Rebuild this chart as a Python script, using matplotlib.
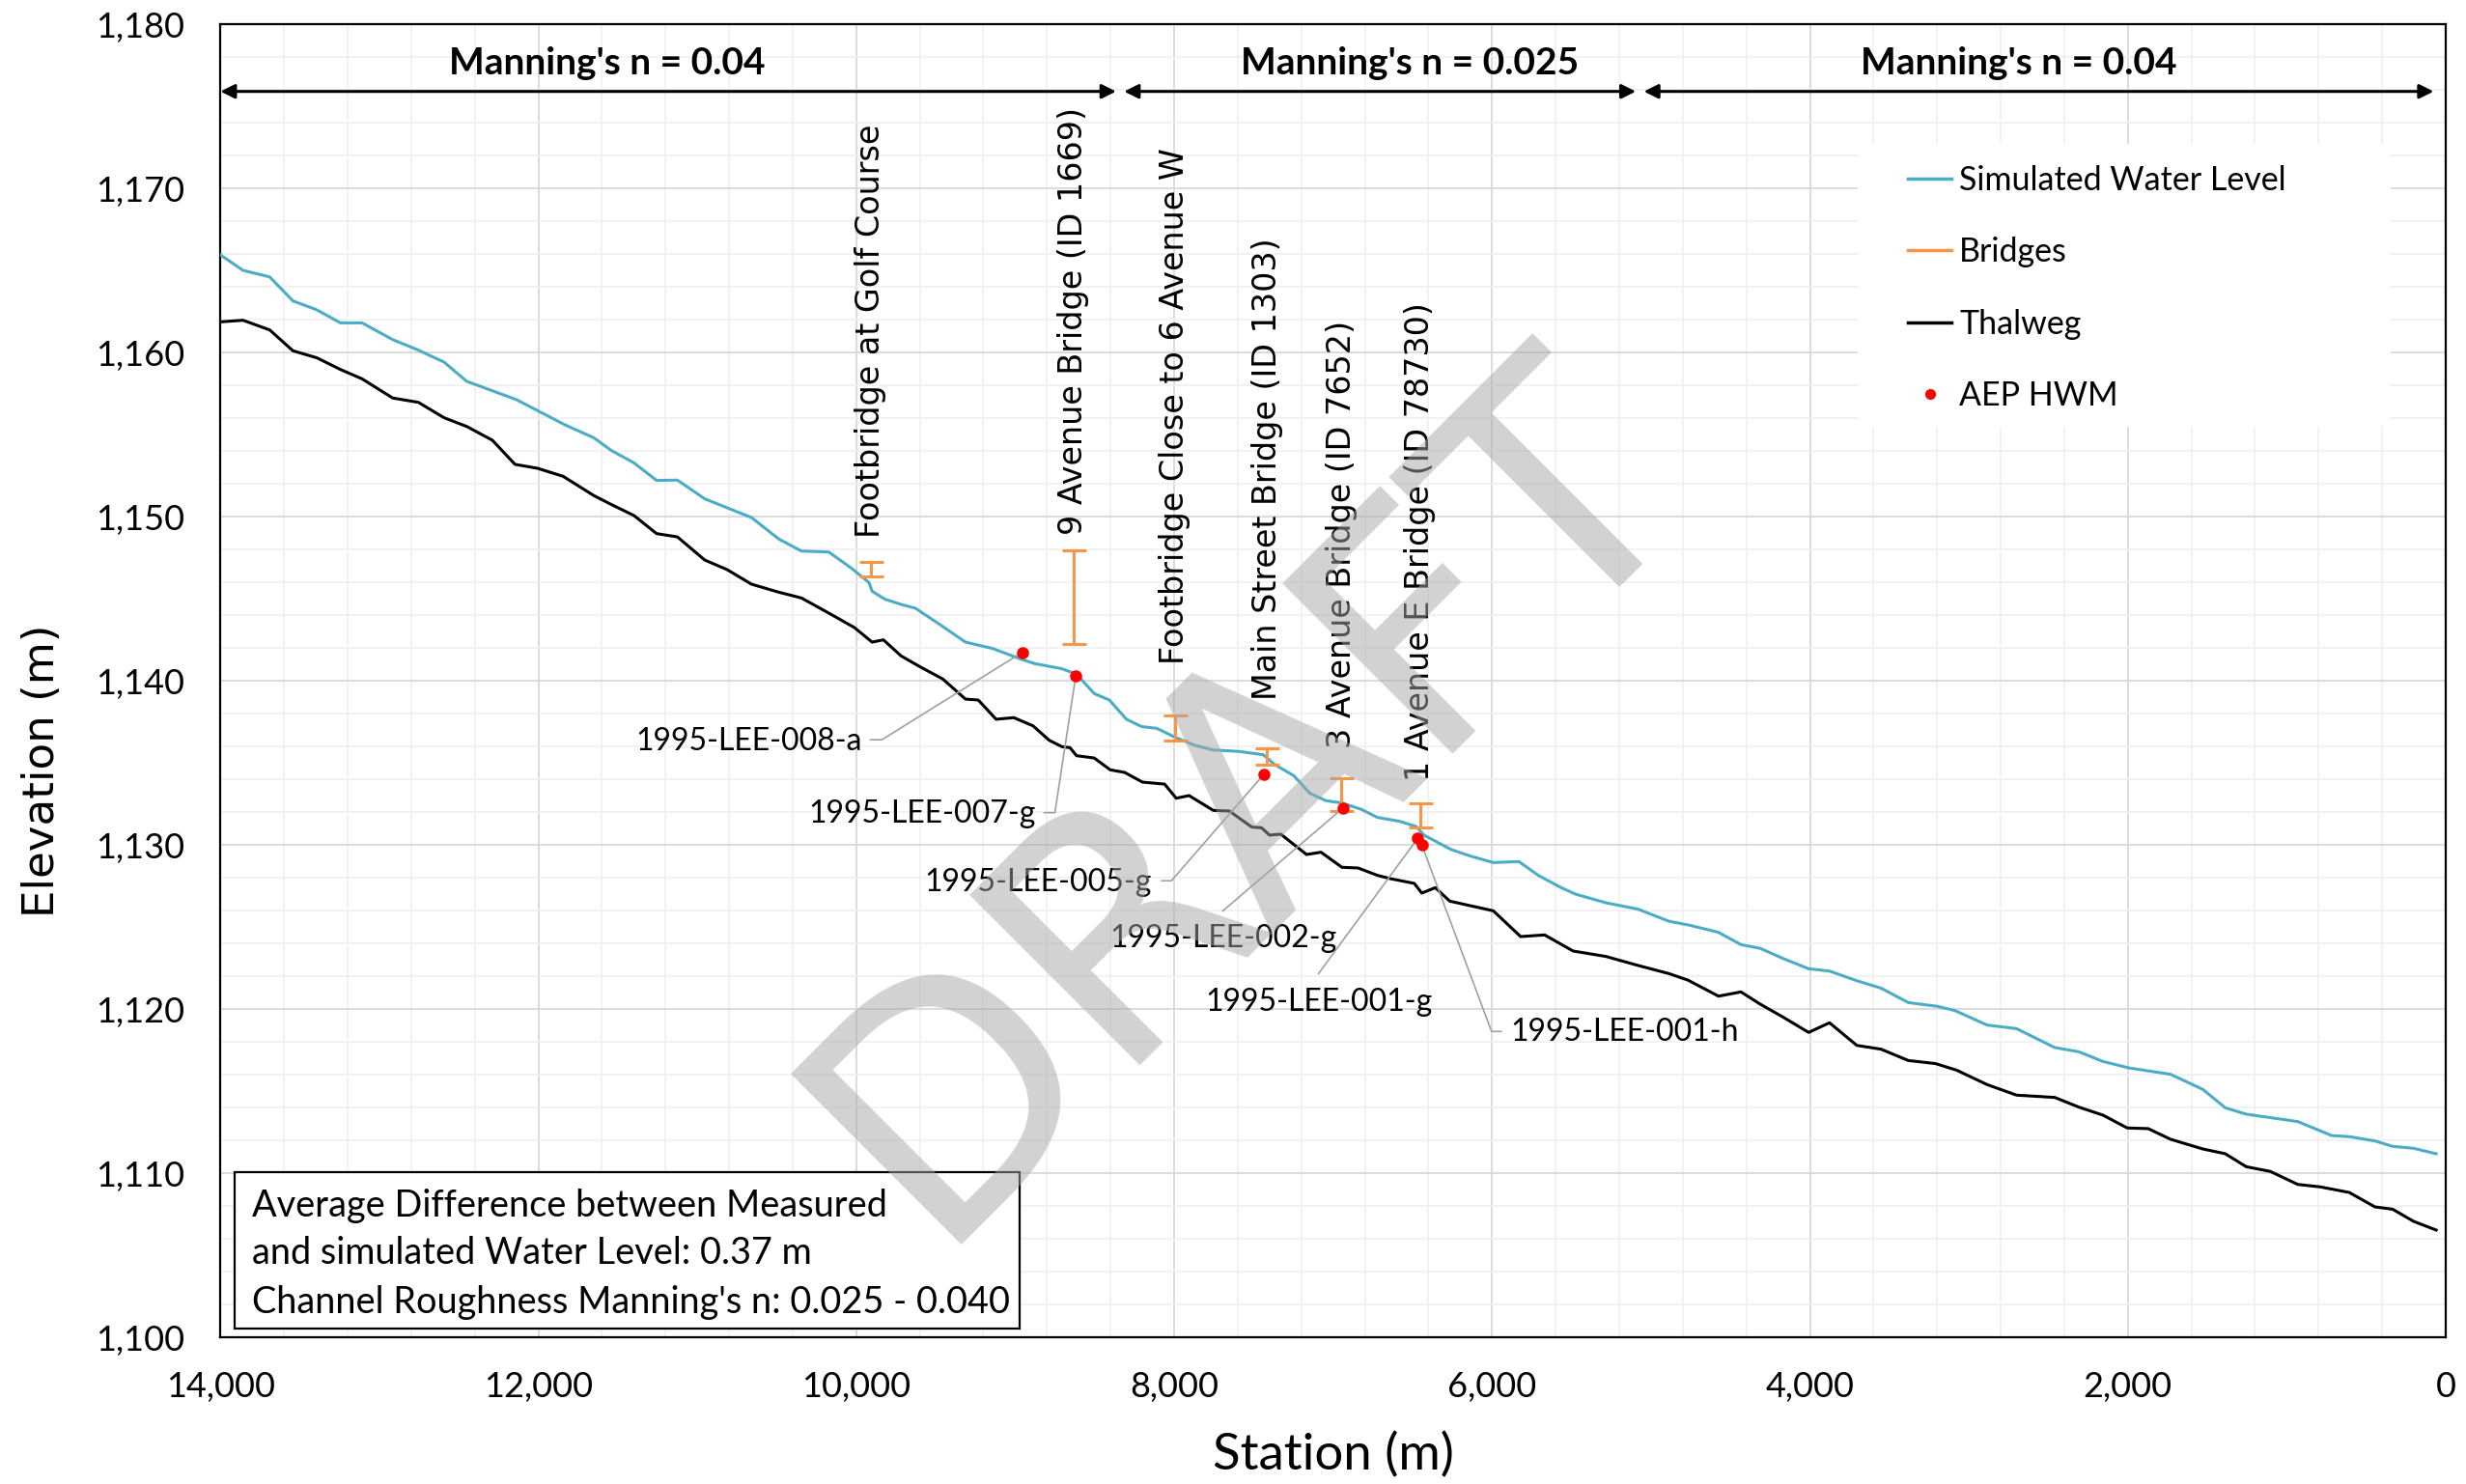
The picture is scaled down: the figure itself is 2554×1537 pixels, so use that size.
import matplotlib
matplotlib.use("Agg")
import matplotlib.pyplot as plt
from matplotlib.lines import Line2D
from matplotlib.patches import Rectangle
from matplotlib.ticker import FuncFormatter, MultipleLocator

# ---------------- data ----------------
sim_station = [14000, 13858, 13690, 13544, 13393, 13245, 13109, 12916, 12755, 12593,
               12451, 12137, 11833, 11651, 11540, 11398, 11256, 11125, 10953, 10811,
               10659, 10487, 10345, 10173, 10031, 9920, 9900, 9819, 9718, 9627,
               9475, 9313, 9141, 8968, 8877, 8706, 8614, 8503, 8407, 8300,
               8204, 8110, 7997, 7875, 7754, 7592, 7440, 7369, 7248, 7146,
               7045, 6944, 6822, 6721, 6580, 6478, 6428, 6256, 6134, 5992,
               5831, 5709, 5567, 5476, 5284, 5081, 4889, 4757, 4575, 4434,
               4312, 4170, 4008, 3877, 3705, 3553, 3381, 3198, 3087, 2885,
               2700, 2460, 2308, 2156, 1994, 1731, 1528, 1387, 1255, 931,
               718, 607, 445, 334, 202, 60]
sim_elev = [1165.94, 1165.00, 1164.60, 1163.14, 1162.59, 1161.80, 1161.80, 1160.78, 1160.14, 1159.41,
            1158.24, 1157.12, 1155.59, 1154.80, 1154.02, 1153.27, 1152.20, 1152.22, 1151.08, 1150.53,
            1149.94, 1148.63, 1147.90, 1147.84, 1146.86, 1145.98, 1145.45, 1144.96, 1144.65, 1144.41,
            1143.43, 1142.35, 1141.96, 1141.33, 1141.04, 1140.73, 1140.39, 1139.22, 1138.82, 1137.65,
            1137.20, 1137.10, 1136.57, 1136.08, 1135.78, 1135.69, 1135.49, 1134.90, 1134.22, 1133.14,
            1132.69, 1132.55, 1132.16, 1131.67, 1131.43, 1131.12, 1130.59, 1129.71, 1129.31, 1128.92,
            1128.98, 1128.14, 1127.40, 1127.00, 1126.47, 1126.08, 1125.35, 1125.10, 1124.67, 1123.92,
            1123.69, 1123.08, 1122.45, 1122.31, 1121.72, 1121.27, 1120.39, 1120.16, 1119.90, 1119.02,
            1118.80, 1117.65, 1117.39, 1116.80, 1116.41, 1116.02, 1115.10, 1113.98, 1113.59, 1113.14,
            1112.29, 1112.22, 1111.96, 1111.63, 1111.51, 1111.18]

thal_station = [14000, 13858, 13690, 13544, 13393, 13245, 13109, 12916, 12755, 12593,
                12451, 12289, 12147, 12005, 11844, 11651, 11540, 11398, 11256, 11125,
                10953, 10811, 10659, 10487, 10345, 10173, 10012, 9900, 9829, 9718,
                9597, 9455, 9313, 9232, 9120, 9009, 8888, 8786, 8706, 8655,
                8614, 8503, 8402, 8311, 8199, 8060, 7987, 7906, 7754, 7653,
                7511, 7450, 7400, 7329, 7167, 7076, 6944, 6843, 6721, 6640,
                6489, 6442, 6357, 6266, 6155, 5992, 5820, 5669, 5490, 5284,
                5081, 4889, 4768, 4575, 4434, 4312, 4170, 4008, 3877, 3705,
                3553, 3381, 3209, 3077, 2885, 2700, 2460, 2308, 2156, 2004,
                1872, 1731, 1528, 1387, 1255, 1103, 931, 789, 607, 445,
                334, 202, 60]
thal_elev = [1161.86, 1161.96, 1161.37, 1160.10, 1159.67, 1158.96, 1158.39, 1157.22, 1156.96, 1156.02,
             1155.49, 1154.65, 1153.18, 1152.94, 1152.45, 1151.28, 1150.73, 1150.06, 1148.96, 1148.76,
             1147.35, 1146.76, 1145.88, 1145.39, 1145.04, 1144.12, 1143.24, 1142.35, 1142.49, 1141.51,
             1140.84, 1140.10, 1138.88, 1138.82, 1137.65, 1137.75, 1137.25, 1136.37, 1135.98, 1135.92,
             1135.43, 1135.29, 1134.57, 1134.41, 1133.82, 1133.70, 1132.84, 1133.00, 1132.10, 1132.06,
             1131.08, 1131.04, 1130.59, 1130.65, 1129.41, 1129.55, 1128.63, 1128.59, 1128.14, 1127.94,
             1127.65, 1127.06, 1127.39, 1126.57, 1126.33, 1125.98, 1124.41, 1124.51, 1123.53, 1123.20,
             1122.65, 1122.16, 1121.76, 1120.78, 1121.04, 1120.29, 1119.51, 1118.57, 1119.16, 1117.78,
             1117.55, 1116.86, 1116.67, 1116.27, 1115.39, 1114.75, 1114.61, 1114.02, 1113.53, 1112.75,
             1112.71, 1112.06, 1111.47, 1111.18, 1110.39, 1110.10, 1109.31, 1109.16, 1108.82, 1107.94,
             1107.80, 1107.06, 1106.53]

bridge_names = ["Footbridge at Golf Course", "9 Avenue Bridge (ID 1669)",
                "Footbridge Close to 6 Avenue W", "Main Street Bridge (ID 1303)",
                "3 Avenue Bridge (ID 7652)", "1 Avenue E Bridge (ID 78730)"]
bridge_station = [9910, 8632, 7997, 7414, 6948, 6454]
bridge_low = [1146.37, 1142.22, 1136.37, 1134.90, 1132.06, 1131.08]
bridge_high = [1147.25, 1147.94, 1137.90, 1135.88, 1134.08, 1132.51]
bridge_label_elev = [1148.7, 1148.9, 1141.0, 1138.8, 1135.9, 1133.9]

hwm_names = ["1995-LEE-008-a", "1995-LEE-007-g", "1995-LEE-005-g",
             "1995-LEE-002-g", "1995-LEE-001-g", "1995-LEE-001-h"]
hwm_station = [8955, 8619, 7434, 6940, 6468, 6442]
hwm_elev = [1141.73, 1140.29, 1134.31, 1132.22, 1130.39, 1130.00]

# label layout for the HWM call-outs
hwm_label_x = [9965, 8871, 8139, 7693, 7091, 5881]
hwm_label_y = [1136.30, 1131.90, 1127.70, 1124.30, 1120.40, 1118.60]
hwm_label_ha = ["right", "right", "right", "center", "center", "left"]
hwm_leader_x = [9910, 8817, 8078, 7693, 7091, 5942]
hwm_leader_y = [1136.40, 1131.96, 1127.81, 1125.98, 1122.16, 1118.63]
hwm_elbow_x = [9839, 8750, 8017, 7693, 7091, 6003]

zone_edges = [14000, 8340, 5070, 0]
zone_labels = ["Manning's n = 0.04", "Manning's n = 0.025", "Manning's n = 0.04"]
zone_label_x = [11568, 6519, 2684]

# ---------------- style ----------------
BLUE = "#4BACC6"
ORANGE = "#F79646"
CAL = "Lato"

fig = plt.figure(figsize=(25.54, 15.37), dpi=100)
ax = fig.add_axes([228.3 / 2554, 1 - 1385 / 1537, (2533 - 228.3) / 2554, (1385 - 25) / 1537])

ax.set_xlim(14000, 0)
ax.set_ylim(1100, 1180)
ax.xaxis.set_major_locator(MultipleLocator(2000))
ax.xaxis.set_minor_locator(MultipleLocator(400))
ax.yaxis.set_major_locator(MultipleLocator(10))
ax.yaxis.set_minor_locator(MultipleLocator(2))
ax.grid(which="major", color="#d9d9d9", lw=1.3, zorder=0)
ax.grid(which="minor", color="#f0f0f0", lw=1.2, zorder=0)
ax.set_axisbelow(True)
fmt = FuncFormatter(lambda v, p: f"{v:,.0f}")
ax.xaxis.set_major_formatter(fmt)
ax.yaxis.set_major_formatter(fmt)
ax.tick_params(which="both", length=0)
ax.tick_params(axis="y", pad=27, labelsize=26)
ax.tick_params(axis="x", pad=25, labelsize=26)
for lab in ax.get_xticklabels() + ax.get_yticklabels():
    lab.set_fontfamily(CAL)
for sp in ax.spines.values():
    sp.set_linewidth(1.6)
    sp.set_color("black")

# lines
ax.plot(sim_station, sim_elev, color=BLUE, lw=2.2, zorder=3)
ax.plot(thal_station, thal_elev, color="black", lw=2.2, zorder=3)

# bridges
mid = [(h + l) / 2 for h, l in zip(bridge_high, bridge_low)]
half = [(h - l) / 2 for h, l in zip(bridge_high, bridge_low)]
ax.errorbar(bridge_station, mid, yerr=half, fmt="none", ecolor=ORANGE,
            elinewidth=2.2, capsize=9, capthick=2.2, zorder=4)
for name, s, e in zip(bridge_names, bridge_station, bridge_label_elev):
    ax.text(s, e, name, rotation=90, ha="center", va="bottom", fontsize=24,
            family="DejaVu Sans", zorder=5)

# HWM
ax.plot(hwm_station, hwm_elev, "o", color="red", ms=8, mec="red", zorder=6)
for i, name in enumerate(hwm_names):
    ax.plot([hwm_station[i], hwm_elbow_x[i], hwm_leader_x[i]],
            [hwm_elev[i], hwm_leader_y[i], hwm_leader_y[i]],
            color="#a0a0a0", lw=1.2, zorder=5)
    ax.text(hwm_label_x[i], hwm_label_y[i], name, ha=hwm_label_ha[i], va="center",
            fontsize=23, family=CAL, zorder=6)

# Manning zones
arrow_y = 1175.9
shr = [(0, 3), (3, 3), (3, 9)]
for i in range(3):
    ax.annotate("", xy=(zone_edges[i + 1], arrow_y), xytext=(zone_edges[i], arrow_y),
                arrowprops=dict(arrowstyle="<|-|>", color="black", lw=2.2,
                                mutation_scale=22, shrinkA=shr[i][0], shrinkB=shr[i][1]),
                zorder=6)
    ax.text(zone_label_x[i], 1177.6, zone_labels[i], ha="center", va="center",
            fontsize=28, fontweight="bold", family=CAL, zorder=6)

# legend with white background
ax.add_patch(Rectangle((0.7358, 0.6934), 0.2395, 0.2154, transform=ax.transAxes,
                       facecolor="white", edgecolor="none", zorder=7))
handles = [Line2D([], [], color=BLUE, lw=2.5),
           Line2D([], [], color=ORANGE, lw=2.5),
           Line2D([], [], color="black", lw=2.5),
           Line2D([], [], color="red", marker="o", ls="none", ms=7)]
leg = ax.legend(handles, ["Simulated Water Level", "Bridges", "Thalweg", "AEP HWM"],
                loc="upper left", bbox_to_anchor=(0.7585, 0.893), frameon=False,
                prop={"family": CAL, "size": 24.5}, handlelength=1.3, handletextpad=0.25,
                labelspacing=1.25, borderpad=0, borderaxespad=0)
leg.set_zorder(8)

# info box
ax.add_patch(Rectangle((0.0064, 0.0063), 0.3526, 0.1197, transform=ax.transAxes,
                       facecolor="white", edgecolor="black", lw=1.6, zorder=7))
info = ["Average Difference between Measured",
        "and simulated Water Level: 0.37 m",
        "Channel Roughness Manning's n: 0.025 - 0.040"]
for txt, yy in zip(info, [0.100, 0.064, 0.0267]):
    ax.text(0.0143, yy, txt, transform=ax.transAxes, ha="left", va="center",
            fontsize=27.3, family=CAL, zorder=8)

# axis titles
ax.set_xlabel("Station (m)", fontsize=38, family=CAL)
ax.xaxis.label.set_va("center")
ax.xaxis.set_label_coords(0.5, -0.0897)
ax.set_ylabel("Elevation (m)", fontsize=32.5, family="DejaVu Sans")
ax.yaxis.label.set_va("center")
ax.yaxis.set_label_coords(-0.080, 0.4316)

# watermark
ax.text(0.4900, 0.3620, "DRAFT", transform=ax.transAxes, fontsize=246, color="#a6a6a6",
        alpha=0.5, rotation=45, ha="center", va="baseline", rotation_mode="anchor",
        family="DejaVu Sans", zorder=10)

fig.savefig("out.png", dpi=100)
